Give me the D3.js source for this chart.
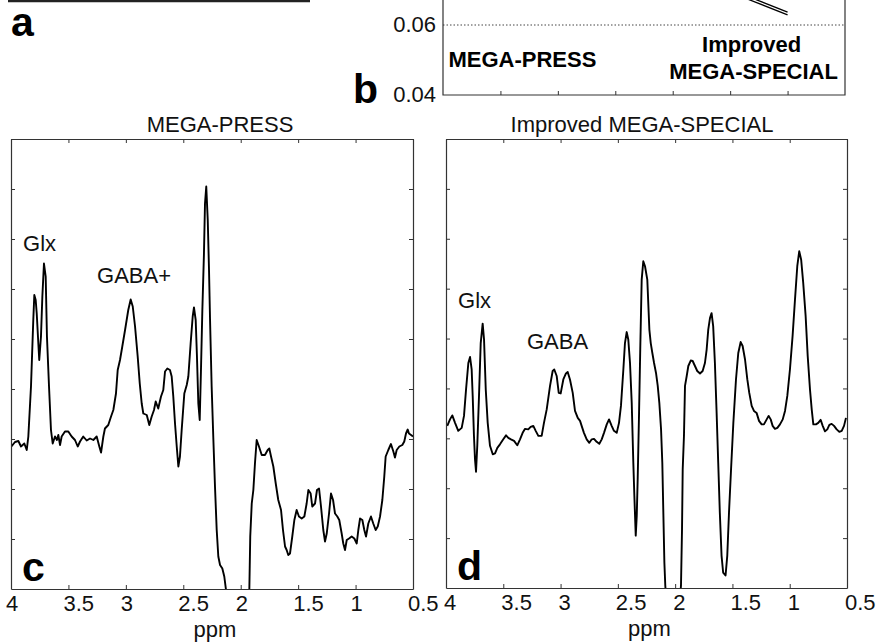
<!DOCTYPE html>
<html>
<head>
<meta charset="utf-8">
<script src="https://cdn.jsdelivr.net/npm/d3@7"></script>
<style>
  body { margin: 0; background: #fff; }
  text { font-family: "Liberation Sans", Arial, Helvetica, sans-serif; }
</style>
</head>
<body>
<div id="chart"></div>
<script>
// ---- data ----
var ppmTicks = [4, 3.5, 3, 2.5, 2, 1.5, 1, 0.5];
var ppmTickLabels = ["4", "3.5", "3", "2.5", "2", "1.5", "1", "0.5"];
var intensityTicks = [1, 2, 3, 4, 5, 6, 7, 8];

// MEGA-PRESS difference spectrum [ppm, intensity (a.u.)]
var pressSpectrum = [
  [4.000,2.84],[3.965,2.94],[3.936,2.96],[3.913,2.85],[3.884,2.91],[3.863,2.78],[3.849,3.05],[3.826,4.05],
  [3.806,5.38],[3.797,5.88],[3.785,5.78],[3.776,5.51],[3.762,4.91],[3.754,4.58],[3.739,5.05],[3.727,5.85],
  [3.713,6.51],[3.698,6.25],[3.687,5.05],[3.669,4.05],[3.652,3.18],[3.637,2.91],[3.617,3.05],[3.600,2.98],
  [3.588,3.08],[3.573,2.88],[3.559,3.05],[3.530,3.15],[3.501,3.15],[3.472,3.05],[3.443,2.98],[3.419,2.85],
  [3.399,2.95],[3.371,3.05],[3.341,2.97],[3.312,3.01],[3.283,2.98],[3.254,3.05],[3.231,2.85],[3.216,2.73],
  [3.196,3.05],[3.182,3.21],[3.153,3.28],[3.129,3.45],[3.109,3.58],[3.086,3.91],[3.071,4.38],[3.051,4.58],
  [3.031,4.85],[3.007,5.18],[2.979,5.58],[2.958,5.79],[2.940,5.65],[2.920,5.25],[2.897,4.65],[2.879,4.11],
  [2.862,3.71],[2.848,3.51],[2.818,3.48],[2.796,3.28],[2.775,3.45],[2.755,3.58],[2.740,3.75],[2.718,3.61],
  [2.694,3.85],[2.674,3.98],[2.659,4.35],[2.639,4.41],[2.616,4.38],[2.601,4.25],[2.587,3.85],[2.572,3.31],
  [2.557,2.85],[2.543,2.45],[2.529,2.65],[2.514,3.18],[2.491,3.91],[2.470,4.08],[2.456,4.25],[2.436,4.91],
  [2.418,5.45],[2.407,5.63],[2.392,5.38],[2.381,4.65],[2.369,3.71],[2.357,3.38],[2.346,4.38],[2.334,5.58],
  [2.320,6.71],[2.311,7.71],[2.300,8.05],[2.287,7.38],[2.276,6.38],[2.267,5.38],[2.253,4.05],[2.239,3.05],
  [2.224,2.05],[2.209,1.18],[2.195,0.65],[2.180,0.48],[2.160,0.41],[2.143,0.25],[2.128,-0.02],[2.032,-2.20],
  [1.925,-0.02],[1.917,1.05],[1.904,1.71],[1.890,1.98],[1.876,2.51],[1.861,2.98],[1.841,2.85],[1.817,2.68],
  [1.789,2.68],[1.765,2.78],[1.751,2.81],[1.736,2.65],[1.716,2.45],[1.695,2.11],[1.673,1.78],[1.649,1.58],
  [1.632,1.18],[1.614,0.85],[1.600,0.78],[1.586,0.68],[1.571,0.71],[1.551,1.05],[1.533,1.38],[1.513,1.58],
  [1.493,1.45],[1.469,1.41],[1.446,1.45],[1.426,1.71],[1.411,1.98],[1.391,1.91],[1.377,1.65],[1.353,1.71],
  [1.336,1.98],[1.318,2.01],[1.301,1.65],[1.281,1.18],[1.266,0.95],[1.251,1.11],[1.231,1.51],[1.214,1.91],
  [1.196,1.78],[1.179,1.51],[1.159,1.45],[1.142,1.38],[1.121,1.11],[1.107,0.91],[1.092,0.78],[1.077,0.98],
  [1.057,1.01],[1.034,1.05],[1.011,1.01],[0.990,0.91],[0.976,1.18],[0.961,1.41],[0.941,1.38],[0.924,1.18],
  [0.909,1.05],[0.889,1.31],[0.866,1.45],[0.846,1.31],[0.825,1.18],[0.807,1.25],[0.787,1.45],[0.767,1.78],
  [0.750,2.25],[0.738,2.65],[0.715,2.78],[0.692,2.90],[0.671,2.75],[0.657,2.63],[0.642,2.78],[0.619,2.85],
  [0.593,2.88],[0.576,2.95],[0.561,3.11],[0.546,3.19],[0.535,3.11],[0.517,3.08],[0.500,3.05]
];

// Improved MEGA-SPECIAL difference spectrum [ppm, intensity (a.u.)]
var specialSpectrum = [
  [3.989,3.25],[3.965,3.38],[3.945,3.46],[3.921,3.31],[3.893,3.15],[3.863,3.21],[3.843,3.45],[3.825,3.98],
  [3.805,4.51],[3.790,4.63],[3.776,4.38],[3.767,3.85],[3.756,3.05],[3.747,2.58],[3.738,2.33],[3.727,2.85],
  [3.712,3.85],[3.697,4.91],[3.680,5.30],[3.668,4.98],[3.653,3.98],[3.636,3.31],[3.616,2.85],[3.592,2.68],
  [3.572,2.70],[3.552,2.81],[3.529,2.88],[3.500,2.98],[3.476,3.06],[3.456,3.01],[3.433,2.98],[3.406,2.95],
  [3.378,2.86],[3.354,2.98],[3.331,3.11],[3.310,3.19],[3.282,3.18],[3.261,3.23],[3.238,3.25],[3.217,3.15],
  [3.194,3.05],[3.165,3.05],[3.145,3.31],[3.121,3.58],[3.092,4.05],[3.069,4.35],[3.055,4.38],[3.034,4.25],
  [3.016,3.91],[2.999,3.90],[2.976,4.18],[2.953,4.30],[2.938,4.33],[2.918,4.18],[2.894,3.91],[2.874,3.55],
  [2.850,3.41],[2.830,3.35],[2.816,3.25],[2.796,3.11],[2.772,2.98],[2.749,2.91],[2.728,2.98],[2.708,2.99],
  [2.685,2.93],[2.662,2.89],[2.641,2.98],[2.621,3.11],[2.597,3.28],[2.577,3.38],[2.554,3.25],[2.534,3.15],
  [2.510,3.11],[2.490,3.31],[2.473,3.65],[2.452,4.38],[2.438,4.91],[2.423,5.13],[2.409,4.98],[2.394,4.51],
  [2.379,3.71],[2.365,2.51],[2.356,1.85],[2.344,1.05],[2.335,1.45],[2.327,2.18],[2.315,3.51],[2.304,4.85],
  [2.292,6.18],[2.278,6.55],[2.263,6.45],[2.243,6.18],[2.225,5.18],[2.213,4.91],[2.199,4.71],[2.184,4.51],
  [2.167,4.31],[2.152,4.05],[2.138,3.71],[2.123,3.18],[2.112,2.51],[2.103,1.51],[2.094,0.51],[2.086,0.05],
  [2.019,-2.20],[1.949,0.05],[1.940,1.18],[1.934,2.38],[1.923,3.05],[1.914,4.05],[1.899,4.25],[1.885,4.45],
  [1.864,4.56],[1.847,4.55],[1.827,4.45],[1.807,4.35],[1.783,4.30],[1.760,4.35],[1.740,4.51],[1.725,4.78],
  [1.711,5.18],[1.696,5.41],[1.682,5.51],[1.668,5.25],[1.653,4.51],[1.638,3.51],[1.624,2.51],[1.610,1.51],
  [1.595,0.65],[1.581,0.31],[1.560,0.25],[1.545,0.65],[1.530,1.51],[1.512,2.38],[1.492,3.31],[1.469,4.18],
  [1.449,4.71],[1.428,4.93],[1.411,4.85],[1.390,4.58],[1.370,4.18],[1.353,3.91],[1.332,3.65],[1.312,3.55],
  [1.289,3.51],[1.268,3.35],[1.245,3.28],[1.225,3.28],[1.201,3.38],[1.184,3.45],[1.166,3.38],[1.149,3.25],
  [1.129,3.19],[1.108,3.21],[1.085,3.28],[1.061,3.38],[1.041,3.55],[1.021,3.85],[0.998,4.38],[0.975,5.05],
  [0.954,5.78],[0.934,6.45],[0.917,6.75],[0.900,6.58],[0.882,6.11],[0.861,5.45],[0.843,4.65],[0.823,3.98],
  [0.808,3.58],[0.794,3.28],[0.771,3.28],[0.751,3.31],[0.730,3.37],[0.712,3.25],[0.692,3.14],[0.672,3.18],
  [0.654,3.27],[0.634,3.29],[0.613,3.25],[0.590,3.18],[0.567,3.13],[0.546,3.15],[0.526,3.25],[0.509,3.41]
];

// peak annotations [text, ppm, intensity]
var pressLabels = [["Glx", 3.895, 6.76], ["GABA+", 3.251, 6.12]];
var specialLabels = [["Glx", 3.895, 5.62], ["GABA", 3.293, 4.80]];

// panel b (only its bottom strip is visible)
var bCategories = ["MEGA-PRESS", "Improved MEGA-SPECIAL"];
var bCategoryPos = [1, 6];
var bTicks = [0.04, 0.06];
var bPairs = [[0.0961, 0.0637], [0.0953, 0.0629]];

// ---- drawing ----
var W = 877, H = 644;
var svg = d3.select("#chart").append("svg")
    .attr("width", W)
    .attr("height", H);

var axisColor = "#333";
var fs = "22px";

function styleAxis(g) {
  g.selectAll("path.domain").attr("stroke", axisColor);
  g.selectAll(".tick line").attr("stroke", axisColor);
  g.selectAll(".tick text").remove();
}

function drawSpectrum(box, id, title, titleX, data, labels, letter, labelShift) {
  var x = d3.scaleLinear().domain([4, 0.5]).range([box.left, box.right]);
  var y = d3.scaleLinear().domain([0, 9]).range([box.bottom, box.top]);
  var g = svg.append("g");

  g.append("clipPath").attr("id", id)
    .append("rect")
    .attr("x", box.left).attr("y", box.top)
    .attr("width", box.right - box.left).attr("height", box.bottom - box.top);

  var line = d3.line().x(d => x(d[0])).y(d => y(d[1]));
  g.append("path")
    .datum(data)
    .attr("clip-path", "url(#" + id + ")")
    .attr("fill", "none")
    .attr("stroke", "#000")
    .attr("stroke-width", 1.9)
    .attr("stroke-linejoin", "round")
    .attr("d", line);

  // box with inward ticks on all sides
  g.append("g").attr("transform", `translate(0,${box.bottom})`)
    .call(d3.axisBottom(x).tickValues(ppmTicks).tickSize(-4).tickSizeOuter(0)).call(styleAxis);
  g.append("g").attr("transform", `translate(0,${box.top})`)
    .call(d3.axisTop(x).tickValues(ppmTicks).tickSize(-4).tickSizeOuter(0)).call(styleAxis);
  g.append("g").attr("transform", `translate(${box.left},0)`)
    .call(d3.axisLeft(y).tickValues(intensityTicks).tickSize(-4).tickSizeOuter(0)).call(styleAxis);
  g.append("g").attr("transform", `translate(${box.right},0)`)
    .call(d3.axisRight(y).tickValues(intensityTicks).tickSize(-4).tickSizeOuter(0)).call(styleAxis);
  g.selectAll(".domain").attr("stroke-width", 1.2);

  g.selectAll("text.xlab").data(ppmTicks).enter().append("text")
    .attr("class", "xlab")
    .attr("x", d => x(d) + labelShift)
    .attr("y", box.bottom + 22)
    .attr("font-size", fs)
    .attr("fill", "#111")
    .text((d, i) => ppmTickLabels[i]);

  g.append("text")
    .attr("x", (box.left + box.right) / 2 + 3)
    .attr("y", box.bottom + 48)
    .attr("text-anchor", "middle")
    .attr("font-size", fs)
    .attr("fill", "#111")
    .text("ppm");

  g.append("text")
    .attr("x", titleX)
    .attr("y", box.top - 7)
    .attr("text-anchor", "middle")
    .attr("font-size", fs)
    .attr("fill", "#111")
    .text(title);

  g.selectAll("text.peak").data(labels).enter().append("text")
    .attr("class", "peak")
    .attr("x", d => x(d[1]))
    .attr("y", d => y(d[2]))
    .attr("font-size", fs)
    .attr("fill", "#111")
    .text(d => d[0]);

  g.append("text")
    .attr("x", box.left + 11)
    .attr("y", box.bottom - 8)
    .attr("font-size", "41px")
    .attr("font-weight", "bold")
    .text(letter);
}

drawSpectrum({left: 11, right: 413, top: 139, bottom: 589}, "clipc",
  "MEGA-PRESS", 220, pressSpectrum, pressLabels, "c", -5);
drawSpectrum({left: 446, right: 847, top: 139, bottom: 588}, "clipd",
  "Improved MEGA-SPECIAL", 642, specialSpectrum, specialLabels, "d", -2);

// panel a: only the bottom edge of its frame is visible
svg.append("line")
  .attr("x1", 8).attr("x2", 310)
  .attr("y1", 1).attr("y2", 1)
  .attr("stroke", "#222").attr("stroke-width", 2.5);
svg.append("text")
  .attr("x", 11).attr("y", 36)
  .attr("font-size", "41px").attr("font-weight", "bold")
  .text("a");

// panel b
var xB = d3.scaleLinear().domain([0, 7]).range([443, 845]);
var yB = d3.scaleLinear().domain([0.04, 0.06]).range([95, 25]);
var gb = svg.append("g");

gb.append("clipPath").attr("id", "clipb")
  .append("rect").attr("x", xB(0)).attr("y", -50)
  .attr("width", xB(7) - xB(0)).attr("height", yB(0.04) + 50);

gb.append("line")
  .attr("x1", xB(0)).attr("x2", xB(7))
  .attr("y1", yB(0.06)).attr("y2", yB(0.06))
  .attr("stroke", "#444").attr("stroke-width", 1)
  .attr("stroke-dasharray", "1.5,2");

var pairLine = d3.line().x((d, i) => xB(bCategoryPos[i])).y(d => yB(d));
gb.selectAll("path.pair").data(bPairs).enter().append("path")
  .attr("class", "pair")
  .attr("clip-path", "url(#clipb)")
  .attr("fill", "none").attr("stroke", "#000").attr("stroke-width", 1.3)
  .attr("d", pairLine);

gb.append("path")
  .attr("d", `M${xB(0)},-5V${yB(0.04)}H${xB(7)}V-5`)
  .attr("fill", "none").attr("stroke", axisColor).attr("stroke-width", 1.2);

gb.append("g").attr("transform", `translate(0,${yB(0.04)})`)
  .call(d3.axisBottom(xB).tickValues([1, 2, 3, 4, 5, 6]).tickSize(-4).tickSizeOuter(0))
  .call(styleAxis)
  .select(".domain").remove();

gb.selectAll("text.ylab").data(bTicks).enter().append("text")
  .attr("class", "ylab")
  .attr("x", xB(0) - 7)
  .attr("y", d => yB(d) + 7)
  .attr("text-anchor", "end")
  .attr("font-size", fs)
  .attr("fill", "#111")
  .text(d => d.toFixed(2));

gb.append("text")
  .attr("x", 353).attr("y", 103)
  .attr("font-size", "41px").attr("font-weight", "bold")
  .text("b");

gb.append("text")
  .attr("x", xB(bCategoryPos[0]) - 52).attr("y", 67)
  .attr("font-size", fs).attr("font-weight", "bold")
  .text(bCategories[0]);

var imp = gb.append("text")
  .attr("text-anchor", "middle")
  .attr("font-size", fs).attr("font-weight", "bold");
imp.append("tspan").attr("x", xB(bCategoryPos[1]) - 36).attr("y", 52).text(bCategories[1].split(" ")[0]);
imp.append("tspan").attr("x", xB(bCategoryPos[1]) - 34).attr("y", 79).text(bCategories[1].split(" ").slice(1).join(" "));
</script>
</body>
</html>
